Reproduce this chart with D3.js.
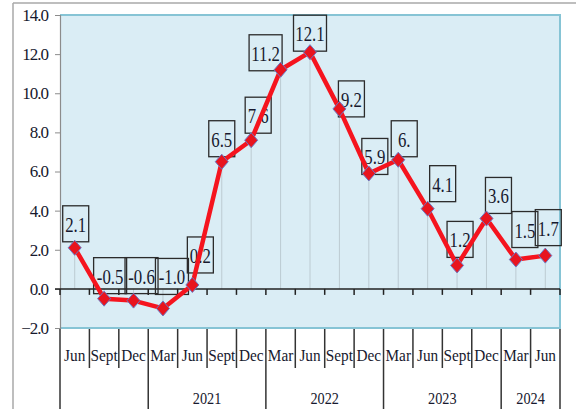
<!DOCTYPE html>
<html>
<head>
<meta charset="utf-8">
<script src="https://cdn.jsdelivr.net/npm/d3@7"></script>
<style>
  html, body { margin: 0; padding: 0; background: #ffffff; }
  svg { display: block; }
  text { font-family: "Liberation Serif", "DejaVu Serif", serif; fill: #17192e; }
</style>
</head>
<body>
<svg></svg>
<script>
// data
let months = ["Jun", "Sept", "Dec", "Mar", "Jun", "Sept", "Dec", "Mar", "Jun", "Sept", "Dec",
              "Mar", "Jun", "Sept", "Dec", "Mar", "Jun"]
let values = [2.1, -0.5, -0.6, -1.0, 0.2, 6.5, 7.6, 11.2, 12.1, 9.2, 5.9, 6.6, 4.1, 1.2, 3.6, 1.5, 1.7]
let valueLabels = ["2.1", "-0.5", "-0.6", "-1.0", "0.2", "6.5", "7.6", "11.2", "12.1", "9.2", "5.9",
                   "6.", "4.1", "1.2", "3.6", "1.5", "1.7"]
let years = ["", "2021", "2022", "2023", "2024"]
let yearSpans = [3, 4, 4, 4, 2]
let yTicks = [-2, 0, 2, 4, 6, 8, 10, 12, 14]

// where each label box sits, relative to its point (box centre dx, box bottom dy)
let labelShift = [[1, -6], [6, -5], [8, -7], [9, -14], [8, -12], [0, -5], [7, -7], [-15, 1], [0, -1],
                  [12, 8], [6, 1], [6, -3], [15, -7], [3, -8], [12, -5], [9, -12], [3, -10]]

let width = 576
let height = 409
let plotLeft = 60, plotRight = 560, plotTop = 15, plotBottom = 328

let svg = d3.select("svg").attr("width", width).attr("height", height)

let xScale = d3.scaleBand().domain(d3.range(values.length)).range([plotLeft, plotRight])
let yScale = d3.scaleLinear().domain([-2, 14]).range([plotBottom, plotTop])
let bw = xScale.bandwidth()
let px = (i) => xScale(i) + bw / 2

// outer frame
svg.append("line").attr("x1", 13).attr("x2", width).attr("y1", 3).attr("y2", 3)
    .attr("stroke", "#a9a9a9").attr("stroke-width", 1.5)
svg.append("line").attr("x1", 13).attr("x2", 13).attr("y1", 3).attr("y2", height)
    .attr("stroke", "#a9a9a9").attr("stroke-width", 1.5)

// plot background
svg.append("rect").attr("x", plotLeft).attr("y", plotTop)
    .attr("width", plotRight - plotLeft).attr("height", plotBottom - plotTop)
    .attr("fill", "#daedf5")
svg.append("path")
    .attr("d", `M${plotLeft},${plotTop}H${plotRight}V${plotBottom}H${plotLeft}`)
    .attr("fill", "none").attr("stroke", "#86c4d5").attr("stroke-width", 2)

// drop lines from the points to zero
svg.selectAll(".drop").data(values).enter().append("line")
    .attr("x1", (d, i) => px(i)).attr("x2", (d, i) => px(i))
    .attr("y1", (d) => yScale(d)).attr("y2", yScale(0))
    .attr("stroke", "#bccbd2").attr("stroke-width", 1)

// y axis
let yAxis = d3.axisLeft(yScale).tickValues(yTicks).tickFormat(d3.format(".1f")).tickSize(5).tickPadding(7)
let yG = svg.append("g").attr("transform", `translate(${plotLeft},0)`).call(yAxis)
yG.select(".domain").attr("stroke", "#8c8c8c").attr("stroke-width", 1.2)
yG.selectAll(".tick line").attr("stroke", "#8c8c8c")
yG.selectAll(".tick text").attr("font-size", 17).attr("fill", "#17192e")
    .attr("font-family", "Liberation Serif").attr("letter-spacing", -1)

// zero line with category ticks
svg.append("line").attr("x1", 55).attr("x2", plotRight).attr("y1", yScale(0)).attr("y2", yScale(0))
    .attr("stroke", "#222").attr("stroke-width", 1.5)
let bounds = d3.range(values.length + 1).map((i) => plotLeft + i * bw)
svg.selectAll(".zt").data(bounds).enter().append("line")
    .attr("x1", (d) => d).attr("x2", (d) => d)
    .attr("y1", yScale(0)).attr("y2", yScale(0) + 6)
    .attr("stroke", "#222").attr("stroke-width", 1.5)

// category separators under the plot
let yearBounds = [0]
yearSpans.forEach((s) => yearBounds.push(yearBounds[yearBounds.length - 1] + s))
svg.selectAll(".sep").data(d3.range(values.length + 1)).enter().append("line")
    .attr("x1", (i) => plotLeft + i * bw).attr("x2", (i) => plotLeft + i * bw)
    .attr("y1", plotBottom + 1)
    .attr("y2", (i) => yearBounds.includes(i) ? height : 368)
    .attr("stroke", "#333").attr("stroke-width", 1.5)

// month labels
svg.selectAll(".month").data(months).enter().append("text")
    .attr("transform", (d, i) => `translate(${px(i)},361) scale(0.9,1)`)
    .attr("text-anchor", "middle").attr("font-size", 17)
    .text((d) => d)

// year labels
svg.selectAll(".year").data(years).enter().append("text")
    .attr("transform", (d, i) => {
        let cx = plotLeft + (yearBounds[i] + yearSpans[i] / 2) * bw
        return `translate(${cx},404) scale(0.84,1)`
    })
    .attr("text-anchor", "middle").attr("font-size", 17)
    .text((d) => d)

// value label boxes
let labels = svg.selectAll(".lab").data(values).enter().append("g")
    .attr("transform", (d, i) => `translate(${px(i) + labelShift[i][0]},${yScale(d) + labelShift[i][1]})`)
labels.append("rect")
    .attr("x", (d, i) => valueLabels[i].length > 3 ? -16.5 : -13)
    .attr("width", (d, i) => valueLabels[i].length > 3 ? 33 : 26)
    .attr("y", -36).attr("height", 36)
    .attr("fill", "none").attr("stroke", "#2b2b2b").attr("stroke-width", 1.3)
labels.append("text")
    .attr("transform", "translate(0,-10) scale(0.8,1)")
    .attr("text-anchor", "middle").attr("font-size", 21)
    .text((d, i) => valueLabels[i])

// the line and its markers
let line = d3.line().x((d, i) => px(i)).y((d) => yScale(d))
svg.append("path").datum(values).attr("d", line)
    .attr("fill", "none").attr("stroke", "#f5141e").attr("stroke-width", 4.5).attr("stroke-linejoin", "round")

svg.selectAll(".pt").data(values).enter().append("path")
    .attr("d", "M0,-7.5L6.5,0L0,7.5L-6.5,0Z")
    .attr("transform", (d, i) => `translate(${px(i)},${yScale(d)})`)
    .attr("fill", "#e8141e").attr("stroke", "#6a78c4").attr("stroke-width", 1)
</script>
</body>
</html>
